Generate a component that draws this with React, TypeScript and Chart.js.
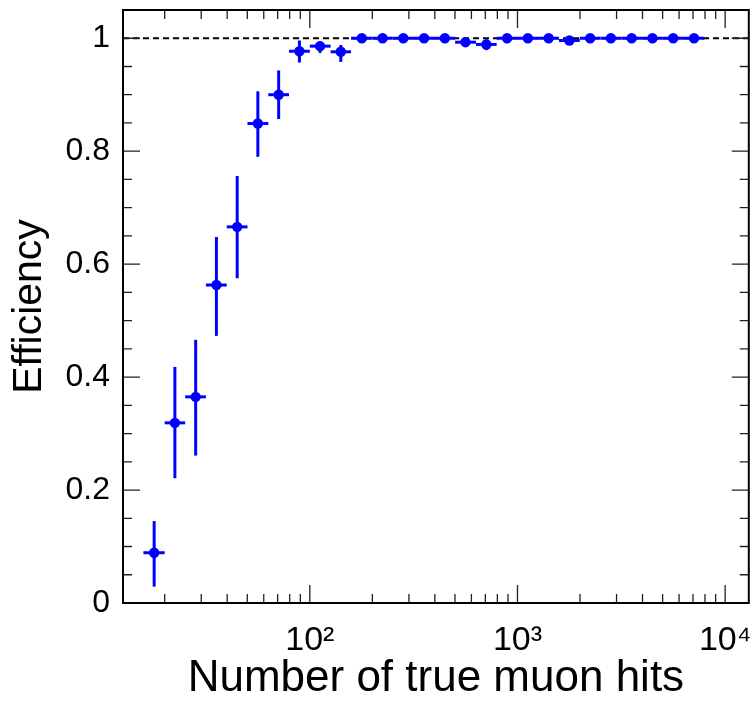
import React, { useEffect, useRef } from "react";
import { Chart, registerables } from "chart.js";

Chart.register(...registerables);

// Bin centres (number of true muon hits) and bin edges, log-spaced
const binCenters = [17.8, 22.4, 28.2, 35.5, 44.7, 56.2, 70.8, 89.1, 112, 141, 178, 224, 282, 355, 447, 562, 708, 891, 1122, 1413, 1778, 2239, 2818, 3548, 4467, 5623, 7079];
const binLowEdges = [15.8, 20.0, 25.1, 31.6, 39.8, 50.1, 63.1, 79.4, 100, 126, 158, 200, 251, 316, 398, 501, 631, 794, 1000, 1259, 1585, 1995, 2512, 3162, 3981, 5012, 6310];
const binHighEdges = [20.0, 25.1, 31.6, 39.8, 50.1, 63.1, 79.4, 100, 126, 158, 200, 251, 316, 398, 501, 631, 794, 1000, 1259, 1585, 1995, 2512, 3162, 3981, 5012, 6310, 7943];
const efficiency = [0.089, 0.319, 0.365, 0.563, 0.666, 0.849, 0.9, 0.977, 0.986, 0.976, 1, 1, 1, 1, 1, 0.993, 0.989, 1, 1, 1, 0.996, 1, 1, 1, 1, 1, 1];
const effLower = [0.029, 0.221, 0.261, 0.473, 0.575, 0.79, 0.857, 0.957, 0.974, 0.958, 1, 1, 1, 1, 1, 0.985, 0.979, 1, 1, 1, 0.99, 1, 1, 1, 1, 1, 1];
const effUpper = [0.145, 0.418, 0.466, 0.648, 0.756, 0.906, 0.943, 0.996, 0.995, 0.988, 1, 1, 1, 1, 1, 1, 0.998, 1, 1, 1, 1, 1, 1, 1, 1, 1, 1];

const yTicks = [0, 0.2, 0.4, 0.6, 0.8, 1];
const yTickLabels = ["0", "0.2", "0.4", "0.6", "0.8", "1"];
const yMinorTicks = [0.05, 0.1, 0.15, 0.25, 0.3, 0.35, 0.45, 0.5, 0.55, 0.65, 0.7, 0.75, 0.85, 0.9, 0.95, 1.05];
const xTicks = [100, 1000, 10000];
const xTickLabels = ["10\u00b2", "10\u00b3", "10\u2074"];
const xMinorTicks = [20, 30, 40, 50, 60, 70, 80, 90, 200, 300, 400, 500, 600, 700, 800, 900, 2000, 3000, 4000, 5000, 6000, 7000, 8000, 9000];

const X_MIN = 12.6;
const X_MAX = 13000;
const Y_MIN = 0;
const Y_MAX = 1.05;
const BLUE = "#0000ff";
const FONT = "'Liberation Sans', Arial, Helvetica, sans-serif";

const decorPlugin = {
  id: "decor",
  beforeDatasetsDraw(chart: any) {
    const { ctx, chartArea, scales } = chart;
    const xs = scales.x;
    const ys = scales.y;
    ctx.save();
    // dashed reference line at efficiency = 1
    ctx.strokeStyle = "#000";
    ctx.lineWidth = 2;
    ctx.setLineDash([6, 4]);
    const y1 = ys.getPixelForValue(1);
    ctx.beginPath();
    ctx.moveTo(chartArea.left, y1);
    ctx.lineTo(chartArea.right, y1);
    ctx.stroke();
    ctx.setLineDash([]);
    // error bars
    ctx.strokeStyle = BLUE;
    ctx.lineWidth = 3;
    for (let i = 0; i < binCenters.length; i++) {
      const px = xs.getPixelForValue(binCenters[i]);
      const py = ys.getPixelForValue(efficiency[i]);
      ctx.beginPath();
      ctx.moveTo(xs.getPixelForValue(binLowEdges[i]), py);
      ctx.lineTo(xs.getPixelForValue(binHighEdges[i]), py);
      ctx.stroke();
      if (effUpper[i] - effLower[i] > 0) {
        ctx.beginPath();
        ctx.moveTo(px, ys.getPixelForValue(effLower[i]));
        ctx.lineTo(px, ys.getPixelForValue(effUpper[i]));
        ctx.stroke();
      }
    }
    ctx.restore();
  },
  afterDraw(chart: any) {
    const { ctx, chartArea, scales } = chart;
    const xs = scales.x;
    const ys = scales.y;
    const { left, right, top, bottom } = chartArea;
    ctx.save();
    ctx.strokeStyle = "#222";
    ctx.lineWidth = 1.3;
    const tickY = (v: number, len: number) => {
      const p = ys.getPixelForValue(v);
      ctx.beginPath();
      ctx.moveTo(left, p);
      ctx.lineTo(left + len, p);
      ctx.moveTo(right, p);
      ctx.lineTo(right - len, p);
      ctx.stroke();
    };
    const tickX = (v: number, len: number) => {
      const p = xs.getPixelForValue(v);
      ctx.beginPath();
      ctx.moveTo(p, bottom);
      ctx.lineTo(p, bottom - len);
      ctx.moveTo(p, top);
      ctx.lineTo(p, top + len);
      ctx.stroke();
    };
    yTicks.forEach((v) => tickY(v, 17));
    yMinorTicks.forEach((v) => tickY(v, 9));
    xTicks.forEach((v) => tickX(v, 18));
    xMinorTicks.forEach((v) => tickX(v, 9));
    // frame
    ctx.strokeStyle = "#000";
    ctx.lineWidth = 2;
    ctx.strokeRect(left, top, right - left, bottom - top);
    ctx.restore();
  },
};

const zeroPadding = (scale: any) => {
  scale.paddingTop = 0;
  scale.paddingBottom = 0;
  scale.paddingLeft = 0;
  scale.paddingRight = 0;
};

export default function App() {
  const canvasRef = useRef<HTMLCanvasElement | null>(null);

  useEffect(() => {
    if (!canvasRef.current) return;
    const points = binCenters.map((x, i) => ({ x, y: efficiency[i] }));
    const chart = new Chart(canvasRef.current, {
      type: "scatter",
      data: {
        datasets: [
          {
            label: "Efficiency",
            data: points,
            backgroundColor: BLUE,
            borderColor: BLUE,
            borderWidth: 0,
            pointRadius: 5.2,
            pointHoverRadius: 5.2,
            showLine: false,
          },
        ],
      },
      options: {
        animation: false,
        responsive: true,
        maintainAspectRatio: false,
        events: [],
        layout: { padding: { top: 10, right: 3, left: 0, bottom: 0 } },
        plugins: {
          legend: { display: false },
          tooltip: { enabled: false },
        },
        scales: {
          x: {
            type: "logarithmic",
            min: X_MIN,
            max: X_MAX,
            grid: { display: false, drawTicks: false },
            border: { display: false },
            afterBuildTicks: (scale: any) => {
              scale.ticks = xTicks.map((v) => ({ value: v }));
            },
            afterFit: (scale: any) => {
              scale.height = 98;
              zeroPadding(scale);
            },
            ticks: {
              autoSkip: false,
              maxRotation: 0,
              padding: 17,
              color: "#000",
              font: { family: FONT, size: 34 },
              callback: (value: any) => {
                const idx = xTicks.indexOf(Number(value));
                return idx >= 0 ? xTickLabels[idx] : "";
              },
            },
            title: {
              display: true,
              text: "Number of true muon hits",
              color: "#000",
              font: { family: FONT, size: 44, lineHeight: 1 },
              padding: { top: 0, bottom: 0 },
            },
          },
          y: {
            type: "linear",
            min: Y_MIN,
            max: Y_MAX,
            grid: { display: false, drawTicks: false },
            border: { display: false },
            afterBuildTicks: (scale: any) => {
              scale.ticks = yTicks.map((v) => ({ value: v }));
            },
            afterFit: (scale: any) => {
              scale.width = 123;
              zeroPadding(scale);
            },
            ticks: {
              autoSkip: false,
              padding: 13,
              color: "#000",
              font: { family: FONT, size: 32 },
              callback: (value: any) => {
                const idx = yTicks.findIndex((t) => Math.abs(t - Number(value)) < 1e-9);
                return idx >= 0 ? yTickLabels[idx] : "";
              },
            },
            title: {
              display: true,
              text: "Efficiency",
              color: "#000",
              font: { family: FONT, size: 41, lineHeight: 1 },
              padding: { top: 9, bottom: 0 },
            },
          },
        },
      },
      plugins: [decorPlugin],
    });
    return () => chart.destroy();
  }, []);

  return (
    <div style={{ position: "fixed", left: 0, top: 0, width: 754, height: 701, background: "#fff" }}>
      <canvas ref={canvasRef} />
    </div>
  );
}
